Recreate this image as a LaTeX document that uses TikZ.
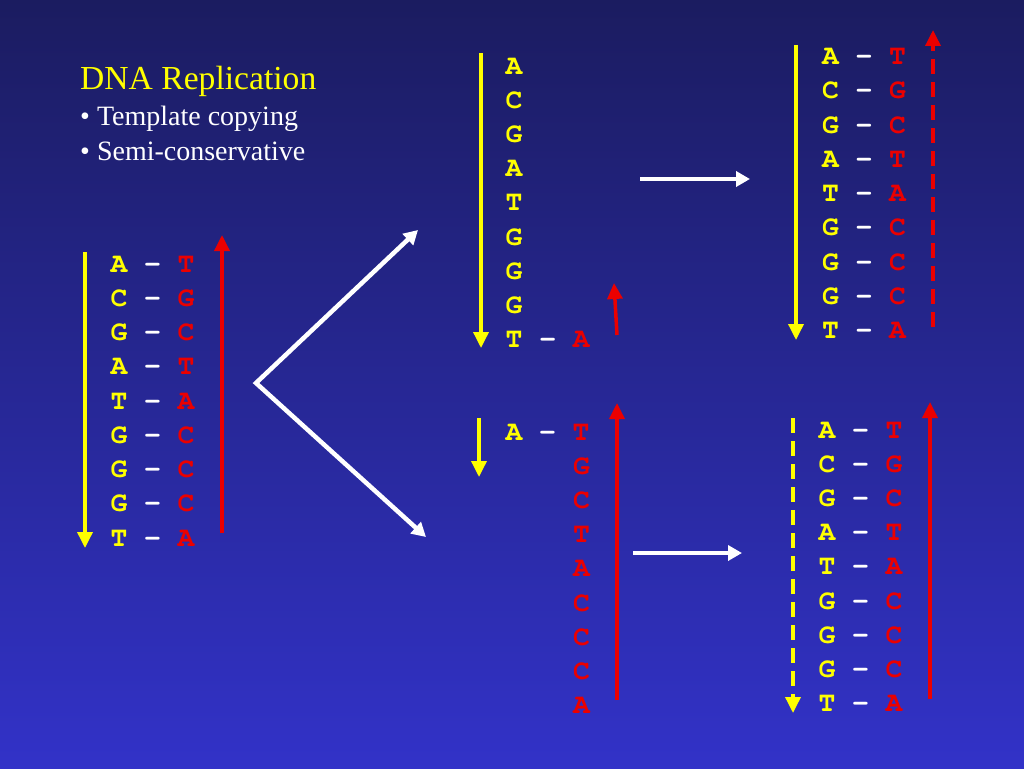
\documentclass[tikz,border=0pt]{standalone}
\usepackage{fontspec}
\setmainfont{Liberation Serif}
\setmonofont{texgyrecursor}[Extension=.otf,UprightFont=*-regular,BoldFont=*-bold]
\usetikzlibrary{arrows.meta}

\definecolor{bgtop}{RGB}{27,28,96}
\definecolor{bgbot}{RGB}{50,50,200}
\definecolor{ylw}{RGB}{255,255,0}
\definecolor{rd}{RGB}{235,0,0}

% one base pair: yellow base, white bond, red base
\newcommand{\bpair}[2]{\textcolor{ylw}{#1} - \textcolor{rd}{#2}}

\begin{document}
\begin{tikzpicture}[x=1pt,y=-1pt,>={Triangle[length=16pt,width=15pt]},
	base/.style={font=\fontsize{28}{34}\ttfamily\bfseries,text=white,anchor=base,inner sep=0pt},
	head/.style={font=\fontsize{33.6}{40}\selectfont,text=ylw,anchor=base west,inner sep=0pt},
	item/.style={font=\fontsize{28}{34}\selectfont,text=white,anchor=base west,inner sep=0pt},
	ystrand/.style={draw=ylw,line width=3.5pt,->},
	rstrand/.style={draw=rd,line width=3.5pt,->},
	newstrand/.style={dash pattern=on 15pt off 8pt},
	flow/.style={draw=white,line width=4.5pt,>={Triangle[length=14pt,width=15pt]}}]

\shade[top color=bgtop,bottom color=bgbot] (0,0) rectangle (1024,768);


\node[head] (title) at (80,89)  {DNA Replication};
\node[item] (item1) at (80,125) {• Template copying};
\node[item] (item2) at (80,160) {• Semi-conservative};


% parent molecule
\foreach \a/\b [count=\i from 0] in {A/T,C/G,G/C,A/T,T/A,G/C,G/C,G/C,T/A}
	\node[base] (m\i) at (152.5,272+34.25*\i) {\bpair{\a}{\b}};

\coordinate (m-y1) at (85,252);		\coordinate (m-y2) at (85,548);
\coordinate (m-r1) at (222,533);	\coordinate (m-r2) at (222,235);
\path (m-y1) edge[ystrand] (m-y2)
	(m-r1) edge[rstrand] (m-r2);


% upper copy, just begun
\foreach \a [count=\i from 0] in {A,C,G,A,T,G,G,G}
	\node[base,text=ylw] (u\i) at (514,74.5+34.1*\i) {\a};
\node[base] (u8) at (547.7,347.3) {\bpair{T}{A}};

\coordinate (u-y1) at (481,53);		\coordinate (u-y2) at (481,348);
\coordinate (u-r1) at (617,335);	\coordinate (u-r2) at (614,283);
\path (u-y1) edge[ystrand] (u-y2)
	(u-r1) edge[rstrand] (u-r2);


% lower copy, just begun
\node[base] (d0) at (547.5,440.5) {\bpair{A}{T}};
\foreach \b [count=\i from 1] in {G,C,T,A,C,C,C,A}
	\node[base,text=rd] (d\i) at (581.5,440.5+34.1*\i) {\b};

\coordinate (d-y1) at (479,418);	\coordinate (d-y2) at (479,477);
\coordinate (d-r1) at (617,700);	\coordinate (d-r2) at (617,403);
\path (d-y1) edge[ystrand] (d-y2)
	(d-r1) edge[rstrand] (d-r2);


% finished daughters
\foreach \a/\b [count=\i from 0] in {A/T,C/G,G/C,A/T,T/A,G/C,G/C,G/C,T/A}{
	\node[base] (t\i) at (864,64.5+34.25*\i) {\bpair{\a}{\b}};
	\node[base] (s\i) at (860.5,438.5+34.1*\i) {\bpair{\a}{\b}};
}

\coordinate (t-y1) at (796,45);		\coordinate (t-y2) at (796,340);
\coordinate (t-r1) at (933,327);	\coordinate (t-r2) at (933,30);
\coordinate (s-y1) at (793,418);	\coordinate (s-y2) at (793,713);
\coordinate (s-r1) at (930,699);	\coordinate (s-r2) at (930,402);
\path (t-y1) edge[ystrand] (t-y2)
	(t-r1) edge[rstrand,newstrand] (t-r2)
	(s-y1) edge[ystrand,newstrand] (s-y2)
	(s-r1) edge[rstrand] (s-r2);


% steps
\coordinate (fork) at (256,383);
\coordinate (fork-up) at (418,230);	\coordinate (fork-dn) at (426,537);
\coordinate (go-u1) at (640,179);	\coordinate (go-u2) at (750,179);
\coordinate (go-d1) at (633,553);	\coordinate (go-d2) at (742,553);
\draw[flow,<->,line join=miter] (fork-up) -- (fork) -- (fork-dn);
\path (go-u1) edge[flow,->] (go-u2)
	(go-d1) edge[flow,->] (go-d2);

\end{tikzpicture}
\end{document}
